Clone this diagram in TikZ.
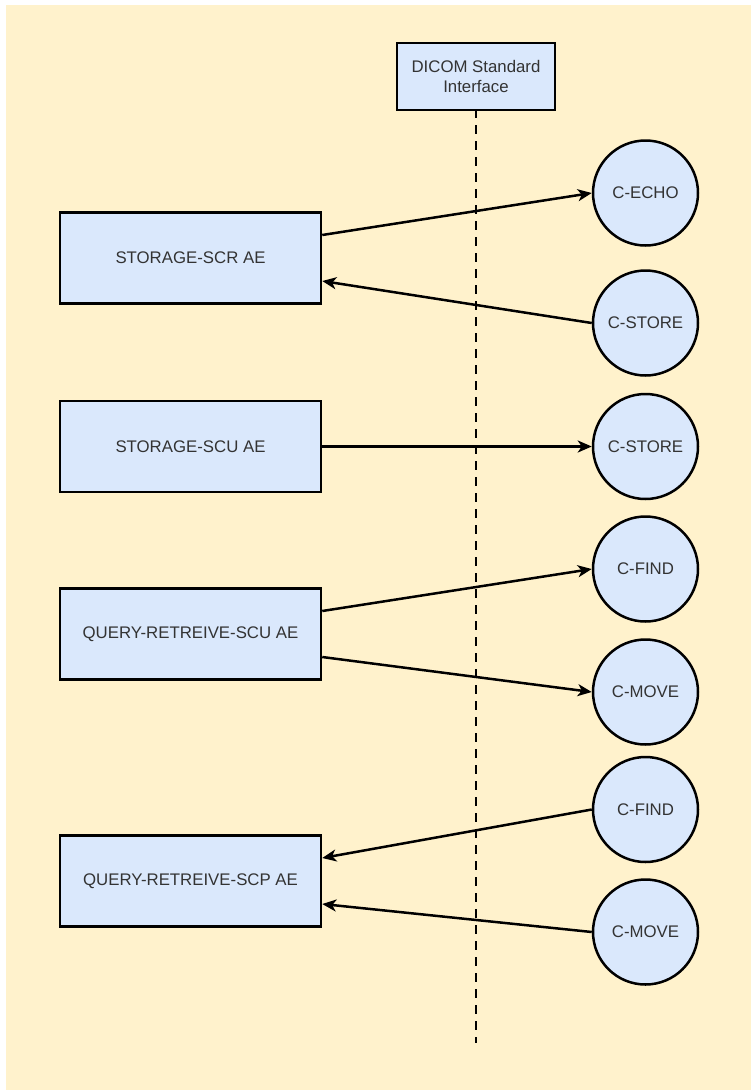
\documentclass[tikz,border=0pt]{standalone}
\usepackage{fontspec}
\setmainfont{Liberation Sans}
\usetikzlibrary{arrows.meta,calc}
\definecolor{bgyellow}{HTML}{FFF2CC}
\definecolor{boxblue}{HTML}{DAE8FC}
\definecolor{txtgray}{HTML}{333333}
\begin{document}
\begin{tikzpicture}[x=1pt,y=-1pt,
  lbl/.style={font=\fontsize{16.8}{19.5}\selectfont, text=txtgray},
  aebox/.style={lbl, draw=black, line width=2.5pt, fill=boxblue, rectangle, minimum width=261pt, minimum height=91pt, inner sep=0pt},
  dimse/.style={lbl, draw=black, line width=2.5pt, fill=boxblue, circle, minimum size=105pt, inner sep=0pt},
  ifbox/.style={lbl, draw=black, line width=2.5pt, fill=boxblue, rectangle, minimum width=158pt, minimum height=67pt, inner sep=0pt, align=center},
  conn/.style={line width=2.5pt, draw=black, -{Stealth[length=14pt,width=12pt,inset=4pt]}}
]
\useasboundingbox (0,0) rectangle (751,1090);
\fill[bgyellow] (6,5) rectangle (751,1090);

\node[ifbox] (dicom) at (476,76.5) {DICOM Standard\\Interface};
\coordinate (dashend) at (476,1043);
\draw[line width=2.5pt, dash pattern=on 9pt off 7pt, dash phase=2pt] (dicom.south) -- (dashend);

\node[aebox] (scr) at (190.5,258) {STORAGE-SCR AE};
\node[aebox] (scu) at (190.5,446.5) {STORAGE-SCU AE};
\node[aebox] (qrscu) at (190.5,634) {QUERY-RETREIVE-SCU AE};
\node[aebox] (qrscp) at (190.5,881) {QUERY-RETREIVE-SCP AE};

\node[dimse] (echo) at (645.5,193) {C-ECHO};
\node[dimse] (store1) at (645.5,323) {C-STORE};
\node[dimse] (store2) at (645.5,446.5) {C-STORE};
\node[dimse] (find1) at (645.5,569) {C-FIND};
\node[dimse] (move1) at (645.5,692) {C-MOVE};
\node[dimse] (find2) at (645.5,809.5) {C-FIND};
\node[dimse] (move2) at (645.5,932) {C-MOVE};

\draw[conn] ([yshift=23pt]scr.east) -- (echo.west);
\draw[conn] (store1.west) -- ([yshift=-23pt]scr.east);
\draw[conn] (scu.east) -- (store2.west);
\draw[conn] ([yshift=23pt]qrscu.east) -- (find1.west);
\draw[conn] ([yshift=-23pt]qrscu.east) -- (move1.west);
\draw[conn] (find2.west) -- ([yshift=23pt]qrscp.east);
\draw[conn] (move2.west) -- ([yshift=-23pt]qrscp.east);
\end{tikzpicture}
\end{document}
